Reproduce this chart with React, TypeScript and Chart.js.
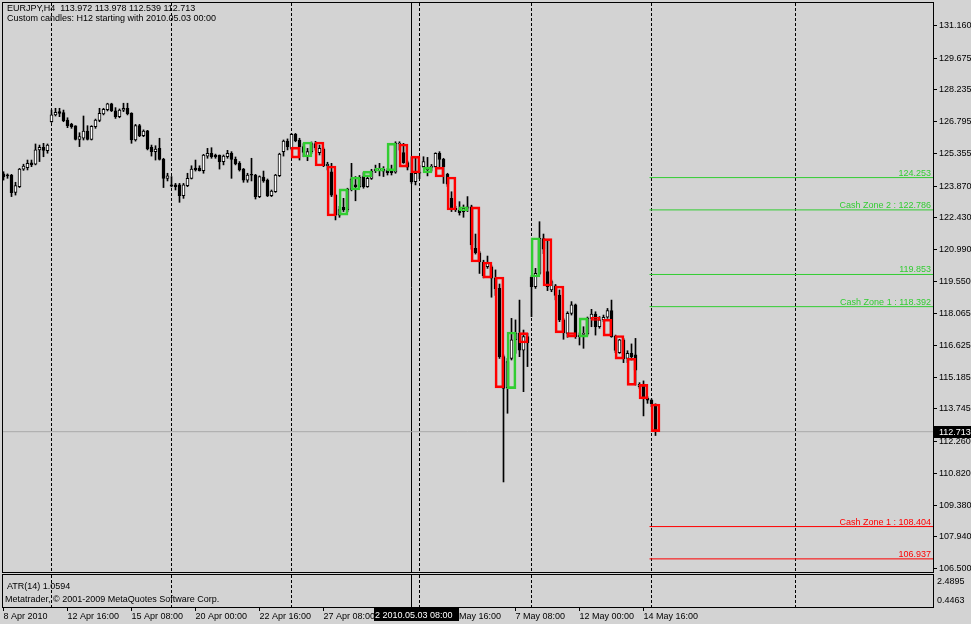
import React, { useEffect, useRef } from 'react';
import { Chart, registerables } from 'chart.js';

Chart.register(...registerables);

// ---------- DATA ----------
const symbolName = 'EURJPY,H4';
const subtitleText = 'Custom candles: H12 starting with 2010.05.03 00:00';
const atrText = 'ATR(14) 1.0594';
const copyrightText = 'Metatrader, \u00a9 2001-2009 MetaQuotes Software Corp.';

// H4 candles, one per bar index 0..163
const opens = [
  124.42, 124.34, 124.37, 123.58, 123.84, 124.64, 124.70, 124.92, 124.86, 125.51,
  125.63, 125.48, 126.79, 127.10, 127.25, 127.20, 126.87, 126.67, 126.60, 125.99,
  126.04, 126.37, 125.99, 126.57, 126.85, 127.14, 127.34, 127.60, 127.29, 127.02,
  127.31, 127.40, 127.17, 125.96, 126.61, 126.16, 126.38, 125.63, 125.43, 125.58,
  125.08, 124.22, 123.92, 123.92, 123.92, 123.43, 123.89, 124.22, 124.69, 124.69,
  124.57, 125.23, 125.36, 125.28, 125.28, 124.98, 125.20, 125.36, 125.08, 124.90,
  124.64, 124.14, 124.37, 124.37, 123.39, 124.28, 124.14, 123.43, 123.61, 124.34,
  125.43, 125.91, 125.58, 126.22, 125.96, 125.66, 125.25, 125.43, 125.80, 125.38,
  125.55, 124.80, 124.52, 123.46, 122.55, 122.90, 122.78, 123.72, 123.92, 123.84,
  124.30, 123.84, 124.22, 124.57, 124.60, 124.54, 124.57, 124.57, 124.50, 125.78,
  125.39, 124.93, 124.45, 124.07, 124.45, 124.75, 124.60, 124.72, 124.75, 125.36,
  125.08, 124.40, 123.31, 122.86, 122.78, 122.71, 122.86, 122.92, 121.04, 120.84,
  120.42, 120.21, 120.20, 119.70, 119.22, 116.12, 114.70, 116.04, 116.88, 117.18,
  116.42, 117.03, 119.72, 119.30, 119.90, 121.48, 119.98, 119.15, 119.34, 118.92,
  117.79, 117.18, 118.09, 118.47, 117.03, 117.13, 117.15, 117.86, 118.06, 117.48,
  117.79, 117.91, 118.21, 117.05, 116.30, 116.88, 116.04, 116.27, 116.20, 114.76,
  114.79, 114.23, 114.15, 113.972,
];
const highs = [
  124.52, 124.42, 124.40, 124.04, 124.67, 124.86, 125.05, 125.05, 125.78, 125.73,
  125.81, 125.78, 127.32, 127.40, 127.40, 127.32, 126.97, 126.72, 126.61, 126.29,
  127.05, 126.61, 126.61, 126.91, 127.40, 127.40, 127.63, 127.63, 127.43, 127.37,
  127.63, 127.63, 127.20, 126.67, 126.67, 126.42, 126.40, 125.73, 125.70, 126.04,
  125.13, 124.45, 124.30, 123.99, 123.99, 123.99, 124.45, 124.79, 125.05, 124.79,
  125.31, 125.58, 125.61, 125.32, 125.28, 125.28, 125.49, 125.43, 125.19, 124.98,
  124.67, 124.45, 125.13, 124.40, 124.33, 124.55, 124.19, 123.69, 124.40, 125.36,
  125.96, 126.01, 126.26, 126.26, 126.04, 125.80, 125.58, 125.87, 125.90, 125.73,
  125.60, 124.95, 124.90, 123.50, 122.95, 123.31, 123.77, 124.90, 124.30, 124.35,
  124.48, 124.30, 124.63, 124.82, 124.90, 124.75, 124.67, 124.82, 125.88, 125.88,
  125.81, 125.00, 125.20, 125.13, 124.80, 125.20, 125.17, 124.85, 125.38, 125.43,
  125.13, 124.45, 123.61, 122.95, 123.16, 123.01, 123.39, 123.00, 121.69, 120.90,
  120.50, 120.69, 120.25, 120.06, 119.42, 116.20, 116.04, 117.86, 117.79, 118.69,
  117.33, 117.18, 119.80, 120.13, 122.25, 121.69, 121.42, 119.60, 119.40, 119.15,
  117.85, 118.16, 118.62, 118.51, 117.20, 117.48, 117.92, 118.27, 118.16, 117.94,
  118.01, 118.31, 118.69, 117.10, 116.91, 116.95, 116.39, 116.70, 116.95, 114.94,
  115.02, 114.30, 114.20, 113.978,
];
const lows = [
  124.14, 124.22, 123.39, 123.46, 123.80, 124.58, 124.60, 124.75, 124.83, 124.98,
  125.20, 125.36, 126.76, 127.05, 127.02, 126.79, 126.52, 126.49, 125.96, 125.66,
  125.96, 125.96, 125.96, 126.49, 126.79, 127.10, 127.28, 127.25, 126.94, 126.97,
  127.25, 127.10, 125.81, 125.91, 126.11, 126.11, 125.51, 125.23, 125.05, 125.05,
  123.80, 124.10, 123.83, 123.69, 123.13, 123.31, 123.84, 124.19, 124.55, 124.55,
  124.45, 125.13, 125.13, 125.13, 124.64, 124.83, 125.13, 124.22, 124.83, 124.55,
  124.04, 124.04, 124.10, 123.28, 123.34, 124.04, 123.39, 123.39, 123.58, 124.30,
  125.23, 125.51, 125.51, 125.88, 125.05, 125.20, 125.02, 125.35, 125.50, 125.28,
  124.75, 124.60, 123.39, 122.33, 122.45, 122.71, 122.70, 123.65, 123.20, 123.80,
  123.77, 123.81, 124.17, 124.48, 124.33, 124.30, 124.37, 124.37, 124.45, 125.50,
  124.90, 124.60, 123.99, 123.92, 124.20, 124.70, 124.33, 124.55, 124.72, 124.75,
  123.99, 123.85, 122.71, 122.71, 122.55, 122.45, 122.71, 121.00, 120.78, 119.90,
  119.70, 120.13, 118.82, 118.90, 116.04, 110.43, 113.55, 115.97, 116.27, 116.12,
  114.53, 115.67, 117.94, 119.22, 119.85, 120.80, 119.12, 119.07, 118.70, 117.71,
  116.91, 117.00, 118.01, 116.95, 116.65, 116.50, 117.10, 117.48, 117.10, 117.41,
  117.71, 117.86, 117.00, 116.30, 116.27, 115.85, 115.85, 115.97, 114.83, 114.68,
  113.43, 114.00, 113.85, 112.539,
];
const closes = [
  124.28, 124.33, 123.57, 123.89, 124.64, 124.78, 124.90, 124.83, 125.51, 125.63,
  125.49, 125.73, 127.10, 127.22, 127.17, 126.84, 126.61, 126.57, 125.99, 126.11,
  126.37, 125.99, 126.58, 126.87, 127.17, 127.35, 127.60, 127.29, 127.02, 127.32,
  127.40, 127.16, 125.96, 126.61, 126.16, 126.37, 125.55, 125.43, 125.55, 125.08,
  124.22, 124.33, 123.86, 123.84, 123.43, 123.92, 124.22, 124.64, 124.60, 124.57,
  125.28, 125.36, 125.20, 125.19, 124.98, 125.23, 125.36, 125.08, 124.87, 124.60,
  124.14, 124.37, 124.36, 123.39, 124.30, 124.10, 123.42, 123.64, 124.37, 125.32,
  125.91, 125.66, 126.22, 125.93, 125.66, 125.40, 125.43, 125.80, 125.60, 125.58,
  124.80, 124.85, 123.46, 122.55, 122.80, 122.78, 123.73, 124.20, 123.84, 124.28,
  123.84, 124.22, 124.55, 124.63, 124.65, 124.63, 124.48, 124.48, 125.82, 125.80,
  124.93, 124.73, 124.07, 124.45, 124.50, 124.98, 124.72, 124.73, 125.36, 125.08,
  124.75, 123.95, 122.86, 122.78, 122.66, 122.86, 122.92, 121.20, 120.84, 120.42,
  119.80, 120.36, 119.69, 119.20, 116.12, 114.68, 115.90, 116.88, 117.20, 116.42,
  117.03, 116.75, 119.30, 119.90, 121.50, 121.00, 119.30, 119.53, 118.90, 117.79,
  117.20, 118.09, 118.47, 117.03, 117.10, 117.15, 117.87, 118.06, 117.48, 117.79,
  117.91, 118.21, 117.03, 116.40, 116.88, 116.02, 116.27, 116.12, 115.51, 114.86,
  114.23, 114.15, 113.98, 112.713,
];

// custom H12 candles (each spans 3 H4 bars)
const h12StartBars = [
  72, 75, 78, 81, 84, 87, 90, 93, 96, 99, 102, 105, 108, 111, 114, 117,
  120, 123, 126, 129, 132, 135, 138, 141, 144, 147, 150, 153, 156, 159, 162,
];
const h12Opens = [
  125.64, 125.19, 125.87, 124.78, 122.55, 123.69, 124.28, 124.55, 124.56, 125.78,
  125.23, 124.46, 124.73, 124.28, 122.75, 122.92, 120.42, 119.74, 114.67, 117.21,
  119.74, 121.48, 119.33, 117.21, 117.01, 117.91, 117.82, 117.08, 116.05, 114.86,
  113.972,
];
const h12Closes = [
  125.14, 125.87, 124.78, 122.51, 123.74, 124.28, 124.55, 124.62, 125.82, 124.73,
  124.46, 124.73, 124.28, 122.78, 122.92, 120.42, 119.69, 114.70, 117.24, 116.74,
  121.52, 119.33, 117.20, 117.01, 117.88, 117.77, 117.05, 116.01, 114.82, 114.20,
  112.713,
];

const levelValues = [124.253, 122.786, 119.853, 118.392, 108.404, 106.937];
const levelLabels = [
  '124.253', 'Cash Zone 2 : 122.786', '119.853', 'Cash Zone 1 : 118.392',
  'Cash Zone 1 : 108.404', '106.937',
];
const levelStartBar = 161.5;

const priceTicks = [
  131.16, 129.675, 128.235, 126.795, 125.355, 123.87, 122.43, 120.99, 119.55,
  118.065, 116.625, 115.185, 113.745, 112.26, 110.82, 109.38, 107.94, 106.5,
];
const atrTicks = [2.4895, 0.4463];
const gridBars = [12, 42, 72, 104, 132, 162, 198];
const timeTickBars = [0, 16, 32, 48, 64, 80, 96, 112, 128, 144, 160];
const timeTickLabels = [
  '8 Apr 2010', '12 Apr 16:00', '15 Apr 08:00', '20 Apr 00:00', '22 Apr 16:00',
  '27 Apr 08:00', '30 Apr 00:00', '5 May 16:00', '7 May 08:00', '12 May 00:00',
  '14 May 16:00',
];
const crosshairBar = 102;
const crosshairLabelBar = 103;
const crosshairLabel = '2 2010.05.03 08:00';

// axis ranges
const X_MIN = -0.375;
const X_MAX = 232.375;
const Y_MIN = 106.341;
const Y_MAX = 132.182;
const ATR_MIN = -0.2312;
const ATR_MAX = 3.21;

// ---------- STYLE ----------
const BG = '#d3d3d3';
const UP = '#32cd32';
const DOWN = '#ff0000';
const FONT = '9px "Liberation Sans"';
Chart.defaults.font.family = '"Liberation Sans"';
Chart.defaults.font.size = 9;
Chart.defaults.color = '#000';

const lastIdx = closes.length - 1;
const lastClose = closes[lastIdx];

const noPad = (s: any) => {
  s.paddingTop = 0;
  s.paddingBottom = 0;
  s.paddingLeft = 0;
  s.paddingRight = 0;
};

export default function App() {
  const mainRef = useRef<HTMLCanvasElement>(null);
  const subRef = useRef<HTMLCanvasElement>(null);

  useEffect(() => {
    const idx = opens.map((_, i) => i);

    const mainPlugin = {
      id: 'mtDecor',
      afterDraw(chart: any) {
        const { ctx, chartArea: a, scales } = chart;
        const ys = scales.y;
        ctx.save();
        ctx.strokeStyle = '#000';
        ctx.lineWidth = 1;
        ctx.strokeRect(a.left + 0.5, a.top - 0.5, a.right - a.left, a.bottom - a.top + 1);
        ctx.font = FONT;
        ctx.fillStyle = '#000';
        ctx.textAlign = 'left';
        ctx.textBaseline = 'alphabetic';
        const head = `${symbolName}  ${opens[lastIdx].toFixed(3)} ${highs[lastIdx].toFixed(3)} ${lows[lastIdx].toFixed(3)} ${closes[lastIdx].toFixed(3)}`;
        ctx.fillText(head, a.left + 5, a.top + 8);
        ctx.fillText(subtitleText, a.left + 5, a.top + 18);
        // level labels
        ctx.textAlign = 'right';
        levelValues.forEach((v, k) => {
          const py = ys.getPixelForValue(v);
          ctx.fillStyle = v > lastClose ? UP : DOWN;
          ctx.fillText(levelLabels[k], a.right - 2, py - 2);
        });
        // current price label
        const py = ys.getPixelForValue(lastClose);
        ctx.fillStyle = '#000';
        ctx.fillRect(a.right + 1, Math.round(py) - 6, 40, 12);
        ctx.fillStyle = '#fff';
        ctx.textAlign = 'left';
        ctx.textBaseline = 'middle';
        ctx.fillText(lastClose.toFixed(3), a.right + 6, Math.round(py) + 0.5);
        ctx.restore();
      },
    };

    const levelSets = levelValues.map((v) => ({
      type: 'line' as const,
      data: [{ x: levelStartBar, y: v }, { x: X_MAX, y: v }],
      borderColor: v > lastClose ? UP : DOWN,
      borderWidth: 1,
      pointRadius: 0,
      fill: false,
      order: 3,
    }));

    const main = new Chart(mainRef.current as HTMLCanvasElement, {
      type: 'bar',
      data: {
        datasets: [
          {
            type: 'bar',
            label: 'H12',
            data: h12StartBars.map((s, k) => ({ x: s + 1, y: [h12Opens[k], h12Closes[k]] })) as any,
            barThickness: 9,
            borderWidth: 2,
            borderSkipped: false,
            borderColor: h12Opens.map((o, k) => (h12Closes[k] >= o ? UP : DOWN)),
            backgroundColor: 'rgba(0,0,0,0)',
            minBarLength: 3,
            grouped: false,
            order: 0,
          },
          {
            type: 'bar',
            label: 'body',
            data: idx.map((i) => ({ x: i, y: [opens[i], closes[i]] })) as any,
            barThickness: 3,
            borderWidth: 1,
            borderSkipped: false,
            borderColor: '#000',
            backgroundColor: idx.map((i) => (closes[i] >= opens[i] ? '#fff' : '#000')),
            minBarLength: 1,
            grouped: false,
            order: 1,
          },
          {
            type: 'bar',
            label: 'wick',
            data: idx.map((i) => ({ x: i, y: [lows[i], highs[i]] })) as any,
            barThickness: 1,
            borderWidth: 0,
            backgroundColor: '#000',
            grouped: false,
            order: 2,
          },
          ...(levelSets as any),
          {
            type: 'line',
            data: [{ x: X_MIN, y: lastClose }, { x: X_MAX, y: lastClose }],
            borderColor: '#a9a9a9',
            borderWidth: 1,
            pointRadius: 0,
            fill: false,
            order: 4,
          } as any,
          {
            type: 'line',
            data: [{ x: crosshairBar, y: Y_MIN }, { x: crosshairBar, y: Y_MAX }],
            borderColor: '#000',
            borderWidth: 1,
            pointRadius: 0,
            fill: false,
            order: 5,
          } as any,
        ],
      },
      options: {
        responsive: false,
        animation: false,
        events: [],
        layout: { padding: { left: 2, top: 3, right: 0, bottom: 2 } },
        plugins: { legend: { display: false }, tooltip: { enabled: false } },
        scales: {
          x: {
            type: 'linear',
            min: X_MIN,
            max: X_MAX,
            offset: false,
            afterBuildTicks: (s: any) => { s.ticks = gridBars.map((v) => ({ value: v })); },
            ticks: { display: false },
            grid: { color: '#000', lineWidth: 1, drawTicks: false, offset: false },
            border: { display: false, dash: [3, 2] },
            afterFit: (s: any) => { s.height = 0; noPad(s); },
          } as any,
          y: {
            type: 'linear',
            position: 'right',
            min: Y_MIN,
            max: Y_MAX,
            afterBuildTicks: (s: any) => { s.ticks = priceTicks.map((v) => ({ value: v })); },
            ticks: { color: '#000', padding: 2, autoSkip: false, font: { size: 9 }, callback: (v: any) => Number(v).toFixed(3) },
            grid: { drawOnChartArea: false, drawTicks: true, tickLength: 4, color: '#000' },
            border: { display: false },
            afterFit: (s: any) => { s.width = 38; noPad(s); },
          } as any,
        },
      },
      plugins: [mainPlugin],
    });

    const subPlugin = {
      id: 'mtSub',
      afterDraw(chart: any) {
        const { ctx, chartArea: a, scales } = chart;
        ctx.save();
        ctx.strokeStyle = '#000';
        ctx.lineWidth = 1;
        ctx.strokeRect(a.left + 0.5, a.top - 0.5, a.right - a.left, a.bottom - a.top + 1);
        ctx.font = FONT;
        ctx.fillStyle = '#000';
        ctx.textAlign = 'left';
        ctx.textBaseline = 'alphabetic';
        ctx.fillText(atrText, a.left + 5, a.top + 14);
        ctx.fillText(copyrightText, a.left + 3, a.top + 27);
        const cx = Math.round(scales.x.getPixelForValue(crosshairLabelBar));
        ctx.fillRect(cx - 42, a.bottom + 1, 85, 13);
        ctx.fillStyle = '#fff';
        ctx.fillText(crosshairLabel, cx - 41, a.bottom + 11);
        ctx.restore();
      },
    };

    const sub = new Chart(subRef.current as HTMLCanvasElement, {
      type: 'line',
      data: {
        datasets: [
          {
            data: [{ x: crosshairBar, y: ATR_MIN }, { x: crosshairBar, y: ATR_MAX }],
            borderColor: '#000',
            borderWidth: 1,
            pointRadius: 0,
            fill: false,
          },
        ],
      },
      options: {
        responsive: false,
        animation: false,
        events: [],
        layout: { padding: { left: 2, top: 1, right: 0, bottom: 0 } },
        plugins: { legend: { display: false }, tooltip: { enabled: false } },
        scales: {
          x: {
            type: 'linear',
            position: 'bottom',
            min: X_MIN,
            max: X_MAX,
            offset: false,
            afterBuildTicks: (s: any) => { s.ticks = timeTickBars.map((v) => ({ value: v })); },
            ticks: {
              autoSkip: false,
              maxRotation: 0,
              minRotation: 0,
              align: 'start',
              padding: 0,
              color: '#000',
              font: { size: 9 },
              callback: (_v: any, i: number) => timeTickLabels[i],
            },
            grid: { drawOnChartArea: false, drawTicks: true, tickLength: 4, color: '#000', offset: false },
            border: { display: false },
            afterFit: (s: any) => { s.height = 17; noPad(s); },
          } as any,
          xg: {
            type: 'linear',
            position: 'bottom',
            min: X_MIN,
            max: X_MAX,
            offset: false,
            afterBuildTicks: (s: any) => { s.ticks = gridBars.map((v) => ({ value: v })); },
            ticks: { display: false },
            grid: { color: '#000', lineWidth: 1, drawTicks: false, offset: false },
            border: { display: false, dash: [3, 2] },
            afterFit: (s: any) => { s.height = 0; noPad(s); },
          } as any,
          y: {
            type: 'linear',
            position: 'right',
            min: ATR_MIN,
            max: ATR_MAX,
            afterBuildTicks: (s: any) => { s.ticks = atrTicks.map((v) => ({ value: v })); },
            ticks: { color: '#000', padding: 4, autoSkip: false, font: { size: 9 }, callback: (v: any) => Number(v).toFixed(4) },
            grid: { drawOnChartArea: false, drawTicks: false },
            border: { display: false },
            afterFit: (s: any) => { s.width = 38; noPad(s); },
          } as any,
        },
      },
      plugins: [subPlugin],
    });

    return () => {
      main.destroy();
      sub.destroy();
    };
  }, []);

  return (
    <div style={{ position: 'fixed', left: 0, top: 0, width: 971, height: 624, background: BG, overflow: 'hidden' }}>
      <canvas ref={mainRef} width={971} height={574} style={{ position: 'absolute', left: 0, top: 0, display: 'block' }} />
      <canvas ref={subRef} width={971} height={50} style={{ position: 'absolute', left: 0, top: 574, display: 'block' }} />
    </div>
  );
}
